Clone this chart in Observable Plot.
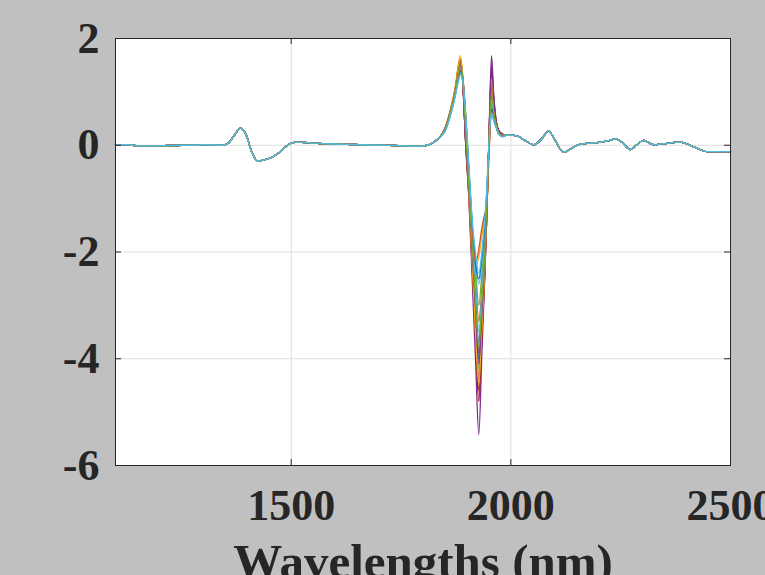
<!DOCTYPE html>
<html>
<head>
<meta charset="utf-8">
<script src="https://cdn.jsdelivr.net/npm/d3@7"></script>
<script src="https://cdn.jsdelivr.net/npm/@observablehq/plot@0.6"></script>
<style>
  html, body { margin: 0; padding: 0; background: #c0c0c0; }
  #chart { width: 765px; height: 575px; overflow: hidden; }
</style>
</head>
<body>
<div id="chart"></div>
<script>
// ---- Data ----
const xTicks = [1500, 2000, 2500];
const yTicks = [-6, -4, -2, 0, 2];
const xLabel = "Wavelengths (nm)";
const colors = ["#0072BD", "#D95319", "#EDB120", "#7E2F8E", "#77AC30", "#4DBEEE", "#A2142F"];

// shared low-variance part before the big water band
const baseW = [1100, 1130, 1150, 1200, 1250, 1280, 1300, 1340, 1355, 1370, 1385, 1398, 1410, 1425, 1440, 1457, 1475, 1490, 1500, 1515, 1550, 1610, 1700, 1760, 1790, 1810, 1825, 1838];
const baseV = [0.01, 0.01, -0.01, -0.01, 0.0, 0.0, 0.01, 0.0, 0.03, 0.18, 0.32, 0.18, -0.12, -0.30, -0.27, -0.22, -0.12, -0.01, 0.04, 0.06, 0.04, 0.02, 0.0, -0.01, -0.02, 0.0, 0.06, 0.15];

// band region, different for every spectrum
const peakW = [1850, 1862, 1874, 1880, 1885, 1890, 1897, 1905, 1912, 1920, 1927, 1934, 1940, 1945, 1950, 1956, 1961, 1966, 1973, 1982];
const s0  = [0.30, 0.62, 1.05, 1.36, 1.52, 1.25, 0.15, -0.85, -1.95, -3.15, -4.00, -3.10, -2.20, -1.20, 0.00, 1.00, 0.62, 0.40, 0.24, 0.19];
const s1  = [0.28, 0.58, 1.00, 1.28, 1.45, 1.30, 0.45, -0.60, -1.60, -2.55, -3.30, -2.70, -1.90, -1.05, -0.05, 0.80, 0.55, 0.38, 0.22, 0.18];
const s2  = [0.33, 0.66, 1.12, 1.50, 1.68, 1.35, 0.20, -0.95, -2.15, -3.45, -4.30, -3.30, -2.40, -1.30, 0.05, 1.05, 0.66, 0.42, 0.25, 0.20];
const s3  = [0.31, 0.63, 1.08, 1.42, 1.60, 1.28, 0.05, -1.10, -2.50, -4.10, -5.42, -3.90, -2.60, -1.40, 0.10, 1.68, 0.95, 0.50, 0.27, 0.21];
const s4  = [0.27, 0.56, 0.98, 1.25, 1.40, 1.28, 0.50, -0.55, -1.55, -2.35, -3.00, -2.40, -1.70, -0.95, -0.05, 0.75, 0.52, 0.36, 0.21, 0.17];
const s5  = [0.26, 0.55, 0.95, 1.20, 1.35, 1.25, 0.55, -0.50, -1.45, -2.15, -2.60, -2.20, -1.60, -0.90, 0.00, 0.65, 0.48, 0.35, 0.21, 0.16];
const s6  = [0.30, 0.61, 1.04, 1.36, 1.52, 1.22, 0.10, -0.95, -2.10, -3.40, -4.60, -3.50, -2.50, -1.35, 0.05, 1.40, 0.85, 0.47, 0.26, 0.20];
const s7  = [0.29, 0.60, 1.02, 1.32, 1.48, 1.28, 0.30, -0.80, -1.85, -2.95, -3.70, -2.90, -2.10, -1.15, 0.00, 0.90, 0.58, 0.40, 0.23, 0.18];
const s8  = [0.32, 0.64, 1.10, 1.45, 1.62, 1.30, 0.15, -1.00, -2.20, -3.50, -4.40, -3.40, -2.45, -1.35, 0.05, 1.20, 0.75, 0.45, 0.25, 0.20];
const s9  = [0.27, 0.57, 0.99, 1.27, 1.42, 1.30, 0.50, -0.60, -1.60, -2.25, -2.10, -1.70, -1.35, -1.15, -0.20, 0.70, 0.50, 0.36, 0.21, 0.17];
const s10 = [0.29, 0.59, 1.01, 1.31, 1.47, 1.27, 0.35, -0.75, -1.80, -2.85, -3.90, -3.00, -2.20, -1.20, 0.00, 1.10, 0.70, 0.43, 0.24, 0.19];
const s11 = [0.30, 0.62, 1.06, 1.39, 1.56, 1.26, 0.12, -0.95, -2.05, -3.30, -4.20, -3.25, -2.35, -1.30, 0.05, 1.15, 0.72, 0.44, 0.25, 0.19];
const s12 = [0.28, 0.58, 0.99, 1.29, 1.44, 1.28, 0.40, -0.70, -1.70, -2.65, -3.50, -2.80, -2.00, -1.10, -0.05, 0.85, 0.56, 0.39, 0.22, 0.18];
const s13 = [0.31, 0.63, 1.07, 1.41, 1.58, 1.25, 0.05, -1.05, -2.30, -3.70, -4.80, -3.60, -2.55, -1.40, 0.08, 1.30, 0.80, 0.46, 0.26, 0.20];
const s14 = [0.27, 0.56, 0.97, 1.24, 1.38, 1.28, 0.55, -0.55, -1.50, -2.25, -2.50, -2.10, -1.55, -0.95, -0.10, 0.68, 0.50, 0.36, 0.21, 0.17];
const s15 = [0.28, 0.57, 0.98, 1.26, 1.41, 1.31, 0.60, -0.60, -1.55, -2.20, -1.95, -1.55, -1.30, -1.15, -0.25, 0.62, 0.47, 0.35, 0.20, 0.16];
const s16 = [0.31, 0.64, 1.09, 1.46, 1.63, 1.32, 0.18, -1.00, -2.20, -3.60, -4.50, -3.45, -2.45, -1.35, 0.05, 1.25, 0.78, 0.45, 0.25, 0.20];
const s17 = [0.30, 0.61, 1.03, 1.34, 1.50, 1.24, 0.10, -0.90, -2.00, -3.10, -4.10, -3.15, -2.25, -1.25, 0.02, 1.50, 0.88, 0.48, 0.26, 0.20];
const s18 = [0.29, 0.60, 1.02, 1.33, 1.50, 1.29, 0.28, -0.85, -1.90, -3.00, -3.80, -2.95, -2.15, -1.20, 0.00, 0.95, 0.60, 0.41, 0.23, 0.19];
const s19 = [0.26, 0.54, 0.94, 1.18, 1.32, 1.24, 0.60, -0.45, -1.40, -2.05, -2.40, -2.00, -1.45, -0.85, 0.00, 0.60, 0.46, 0.34, 0.20, 0.16];
const peakSeries = [s0, s1, s2, s3, s4, s5, s6, s7, s8, s9, s10, s11, s12, s13, s14, s15, s16, s17, s18, s19];

// shared tail after the band
const tailW = [1990, 2000, 2015, 2030, 2052, 2070, 2086, 2100, 2120, 2140, 2158, 2197, 2220, 2238, 2255, 2272, 2288, 2302, 2325, 2348, 2386, 2416, 2447, 2470, 2500];
const tailV = [0.19, 0.19, 0.17, 0.10, 0.01, 0.12, 0.27, 0.10, -0.13, -0.05, 0.02, 0.05, 0.08, 0.12, 0.04, -0.08, 0.02, 0.09, 0.01, 0.03, 0.06, -0.03, -0.12, -0.12, -0.12];

// ---- build table ----
const rows = [];
peakSeries.forEach((vals, k) => {
  baseW.forEach((w, i) => rows.push({series: k, w, v: baseV[i]}));
  peakW.forEach((w, i) => rows.push({series: k, w, v: vals[i]}));
  tailW.forEach((w, i) => rows.push({series: k, w, v: tailV[i]}));
});

const ink = "#262626";
const font = "'Liberation Serif', 'Times New Roman', Times, serif";

const chart = Plot.plot({
  width: 765,
  height: 575,
  marginLeft: 115,
  marginRight: 35,
  marginTop: 38,
  marginBottom: 110,
  style: {background: "#c0c0c0", fontFamily: font, overflow: "hidden"},
  x: {domain: [1100, 2500], axis: null},
  y: {domain: [-6, 2], axis: null},
  marks: [
    Plot.frame({fill: "white", stroke: null}),
    Plot.gridX([1500, 2000], {stroke: "#dedede", strokeOpacity: 1, strokeWidth: 1}),
    Plot.gridY([-4, -2, 0], {stroke: "#dedede", strokeOpacity: 1, strokeWidth: 1}),
    Plot.line(rows, {
      x: "w", y: "v", z: "series",
      stroke: d => colors[d.series % colors.length],
      strokeWidth: 1.3, curve: "monotone-x"
    }),
    Plot.frame({stroke: ink, strokeWidth: 1}),
    Plot.tickX(xTicks, {x: d => d, stroke: ink, insetTop: 421}),
    Plot.tickX(xTicks, {x: d => d, stroke: ink, insetBottom: 421}),
    Plot.tickY(yTicks, {y: d => d, stroke: ink, insetRight: 609}),
    Plot.tickY(yTicks, {y: d => d, stroke: ink, insetLeft: 609}),
    Plot.axisX(xTicks, {
      tickSize: 0, tickPadding: 23, label: null,
      fontSize: 44, fontWeight: "bold", fill: ink,
      tickFormat: d => String(d)
    }),
    Plot.axisY(yTicks, {
      tickSize: 0, tickPadding: 16, label: null,
      fontSize: 44, fontWeight: "bold", fill: ink,
      tickFormat: d => String(d)
    }),
    Plot.text([xLabel], {
      text: d => d, frameAnchor: "bottom", lineAnchor: "top", dy: 78,
      fontSize: 49, fontWeight: "bold", fill: ink
    })
  ]
});
document.getElementById("chart").appendChild(chart);
</script>
</body>
</html>
